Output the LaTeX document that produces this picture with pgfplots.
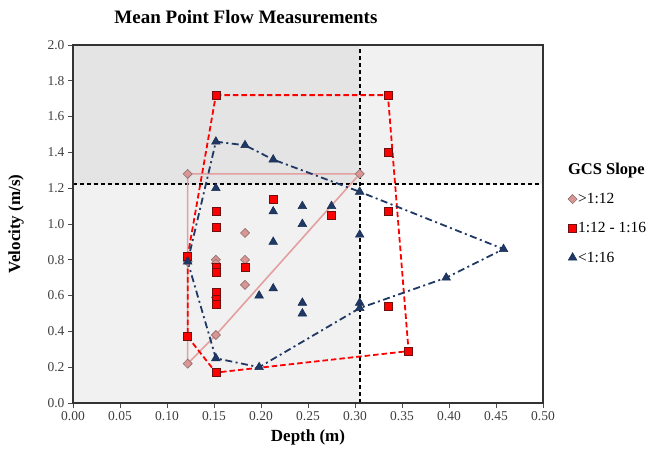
\documentclass[border=0pt]{standalone}
\usepackage{fontspec}
\setmainfont{Liberation Serif}
\usepackage{pgfplots}
\pgfplotsset{compat=1.18}

\definecolor{shadeA}{HTML}{E4E4E4}
\definecolor{shadeB}{HTML}{F1F1F1}
\definecolor{diafill}{HTML}{D99694}
\definecolor{diaedge}{HTML}{8C6E6E}
\definecolor{dialine}{HTML}{E3A09F}
\definecolor{sqred}{HTML}{FF0000}
\definecolor{sqedge}{HTML}{6E1010}
\definecolor{navy}{HTML}{1F3864}

\begin{document}
\begin{tikzpicture}
\begin{axis}[
    name=ax,
    scale only axis,
    width=470pt, height=358pt,
    axis on top,
    xmin=0, xmax=0.5, ymin=0, ymax=2.0,
    xtick={0,0.05,...,0.5},
    ytick={0,0.2,...,2.0},
    /pgf/number format/assume math mode=true,
    xticklabel style={/pgf/number format/.cd, fixed, fixed zerofill, precision=2},
    yticklabel style={/pgf/number format/.cd, fixed, fixed zerofill, precision=1},
    tick label style={font=\fontsize{13.5}{14}\selectfont, color=black!75},
    tick align=outside, tick pos=left,
    major tick length=5pt,
    axis line style={black!80, line width=1.4pt},
    every tick/.style={black!70, line width=0.8pt},
    title={\textbf{Mean Point Flow Measurements}},
    title style={font=\fontsize{19}{21}\selectfont, at={(axis description cs:0.368,1.062)}, anchor=center},
    xlabel={\textbf{Depth (m)}},
    ylabel={\textbf{Velocity (m/s)}},
    label style={font=\fontsize{17}{18}\selectfont},
    xlabel style={at={(axis description cs:0.5,-0.095)}, anchor=center},
    ylabel style={at={(axis description cs:-0.121,0.5)}, anchor=center},
    legend style={at={(1.038,0.680)}, anchor=north west, draw=none, fill=none,
        font=\fontsize{15.5}{16}\selectfont, row sep=15.5pt,
        nodes={inner sep=1pt}},
    legend cell align=left,
]
% shaded regions
\addplot[fill=shadeB, draw=none, forget plot] coordinates {(0,0) (0.305,0) (0.305,1.22) (0,1.22) (0,0)};
\addplot[fill=shadeA, draw=none, forget plot] coordinates {(0,1.22) (0.305,1.22) (0.305,2.0) (0,2.0) (0,1.22)};
\addplot[fill=shadeB, draw=none, forget plot] coordinates {(0.305,1.22) (0.5,1.22) (0.5,2.0) (0.305,2.0) (0.305,1.22)};
% reference lines
\addplot[black, line width=1.8pt, dash pattern=on 4pt off 3pt, forget plot] coordinates {(0.305,0) (0.305,2.0)};
\addplot[black, line width=1.8pt, dash pattern=on 4pt off 3pt, forget plot] coordinates {(0,1.222) (0.5,1.222)};
% envelopes
\addplot[dialine, line width=1.6pt, forget plot] coordinates {
    (0.122,0.22) (0.152,0.38) (0.305,1.28) (0.122,1.28) (0.122,0.22)};
\addplot[sqred, line width=1.8pt, dash pattern=on 5.5pt off 3pt, forget plot] coordinates {
    (0.152,1.72) (0.335,1.72) (0.357,0.29) (0.152,0.17) (0.122,0.37) (0.122,0.82) (0.152,1.72)};
\addplot[navy, line width=1.8pt, dash pattern=on 7pt off 3.5pt on 2pt off 3.5pt, forget plot] coordinates {
    (0.152,1.46) (0.183,1.44) (0.213,1.36) (0.305,1.18) (0.458,0.86) (0.397,0.70)
    (0.305,0.53) (0.198,0.20) (0.152,0.25) (0.122,0.79) (0.152,1.46)};

\addlegendimage{empty legend}
\addlegendentry{\hspace{-10pt}\textbf{\fontsize{16.5}{17}\selectfont GCS Slope}}

% >1:12
\addplot[only marks, mark=square*, mark size=3.2pt,
    mark options={rotate=45, fill=diafill, draw=diaedge, line width=0.6pt}] coordinates {
    (0.122,1.28) (0.305,1.28) (0.122,0.22) (0.152,0.38)
    (0.152,0.80) (0.152,0.78) (0.152,0.59) (0.183,0.95) (0.183,0.80) (0.183,0.66)
    (0.122,0.79)};
\addlegendentry{>1:12}
% 1:12 - 1:16
\addplot[only marks, mark=square*, mark size=4pt,
    mark options={fill=sqred, draw=sqedge, line width=0.6pt}] coordinates {
    (0.152,1.72) (0.335,1.72) (0.335,1.40) (0.335,1.07) (0.335,0.54) (0.357,0.29)
    (0.152,0.17) (0.122,0.37) (0.122,0.82) (0.152,1.07) (0.152,0.98)
    (0.152,0.76) (0.152,0.73) (0.152,0.62) (0.152,0.58) (0.152,0.55)
    (0.213,1.14) (0.183,0.76) (0.275,1.05)};
\addlegendentry{1:12 - 1:16}
% <1:16
\addplot[only marks, mark=triangle*, mark size=5pt,
    mark options={fill=navy, draw=navy!80!black, line width=0.5pt}] coordinates {
    (0.152,1.46) (0.183,1.44) (0.213,1.36) (0.305,1.18) (0.458,0.86) (0.397,0.70)
    (0.305,0.56) (0.305,0.53) (0.305,0.94) (0.152,0.25) (0.198,0.20) (0.122,0.79)
    (0.152,1.20) (0.213,1.07) (0.213,0.90) (0.213,0.64) (0.244,1.10) (0.244,1.00)
    (0.244,0.56) (0.244,0.50) (0.198,0.60) (0.275,1.10)};
\addlegendentry{<1:16}
\end{axis}
\pgfresetboundingbox
\path ([shift={(-73pt,-53pt)}]ax.south west) rectangle ([shift={(111pt,45pt)}]ax.north east);
\end{tikzpicture}
\end{document}
